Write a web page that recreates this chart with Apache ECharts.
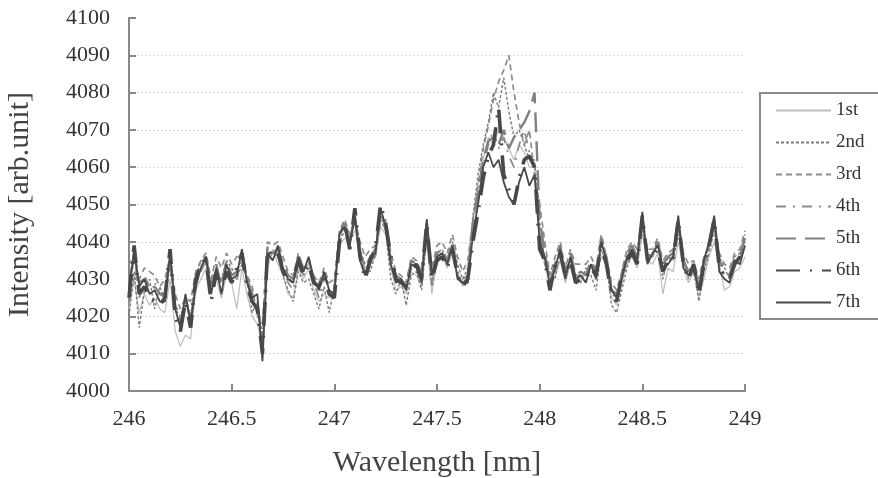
<!DOCTYPE html>
<html>
<head>
<meta charset="utf-8">
<script src="https://cdn.jsdelivr.net/npm/echarts@6/dist/echarts.min.js"></script>
<style>
  html, body { margin: 0; padding: 0; background: #fff; }
  #chart { width: 878px; height: 478px; }
</style>
</head>
<body>
<div id="chart"></div>
<script>
// wavelength samples [nm]
const wavelength = [
  246, 246.025, 246.05, 246.075, 246.1, 246.125, 246.15, 246.175, 246.2, 246.225,
  246.25, 246.275, 246.3, 246.325, 246.35, 246.375, 246.4, 246.425, 246.45, 246.475,
  246.5, 246.525, 246.55, 246.575, 246.6, 246.625, 246.65, 246.675, 246.7, 246.725,
  246.75, 246.775, 246.8, 246.825, 246.85, 246.875, 246.9, 246.925, 246.95, 246.975,
  247, 247.025, 247.05, 247.075, 247.1, 247.125, 247.15, 247.175, 247.2, 247.225,
  247.25, 247.275, 247.3, 247.325, 247.35, 247.375, 247.4, 247.425, 247.45, 247.475,
  247.5, 247.525, 247.55, 247.575, 247.6, 247.625, 247.65, 247.675, 247.7, 247.725,
  247.75, 247.775, 247.8, 247.825, 247.85, 247.875, 247.9, 247.925, 247.95, 247.975,
  248, 248.025, 248.05, 248.075, 248.1, 248.125, 248.15, 248.175, 248.2, 248.225,
  248.25, 248.275, 248.3, 248.325, 248.35, 248.375, 248.4, 248.425, 248.45, 248.475,
  248.5, 248.525, 248.55, 248.575, 248.6, 248.625, 248.65, 248.675, 248.7, 248.725,
  248.75, 248.775, 248.8, 248.825, 248.85, 248.875, 248.9, 248.925, 248.95, 248.975,
  249
]

const run1 = [
  4022, 4030, 4021, 4026, 4023, 4025, 4022, 4021, 4030, 4016,
  4012, 4015, 4014, 4027, 4030, 4033, 4028, 4030, 4025, 4031,
  4029, 4022, 4033, 4026, 4020, 4018, 4012, 4033, 4038, 4034,
  4031, 4026, 4025, 4033, 4030, 4033, 4027, 4024, 4026, 4025,
  4027, 4039, 4041, 4040, 4043, 4037, 4033, 4034, 4036, 4044,
  4042, 4033, 4027, 4028, 4026, 4032, 4031, 4028, 4040, 4026,
  4035, 4036, 4033, 4037, 4031, 4028, 4032, 4045, 4055, 4062,
  4068, 4066, 4070, 4068, 4065, 4062, 4066, 4064, 4060, 4060,
  4042, 4034, 4029, 4031, 4035, 4029, 4034, 4031, 4030, 4032,
  4033, 4032, 4036, 4034, 4025, 4023, 4029, 4034, 4036, 4033,
  4042, 4035, 4034, 4037, 4026, 4033, 4032, 4040, 4033, 4029,
  4032, 4025, 4030, 4036, 4040, 4034, 4027, 4028, 4032, 4033,
  4036
]
const run2 = [
  4020, 4032, 4017, 4027, 4030, 4022, 4028, 4024, 4034, 4022,
  4020, 4024, 4020, 4030, 4035, 4034, 4029, 4031, 4030, 4035,
  4033, 4030, 4034, 4030, 4021, 4024, 4015, 4035, 4037, 4036,
  4031, 4027, 4024, 4032, 4029, 4030, 4026, 4022, 4028, 4021,
  4028, 4040, 4043, 4041, 4045, 4038, 4034, 4032, 4037, 4046,
  4043, 4030, 4026, 4030, 4023, 4031, 4032, 4027, 4042, 4028,
  4037, 4038, 4035, 4040, 4034, 4030, 4033, 4047, 4058, 4066,
  4072, 4080, 4076, 4084, 4075, 4068, 4070, 4066, 4062, 4062,
  4045, 4035, 4032, 4030, 4037, 4031, 4035, 4030, 4029, 4033,
  4031, 4027, 4038, 4034, 4023, 4021, 4027, 4033, 4037, 4036,
  4044, 4036, 4036, 4040, 4030, 4036, 4035, 4042, 4036, 4030,
  4033, 4024, 4032, 4037, 4043, 4036, 4033, 4030, 4036, 4037,
  4042
]
const run3 = [
  4035, 4034, 4030, 4033, 4032, 4031, 4028, 4030, 4036, 4026,
  4022, 4025, 4024, 4032, 4035, 4037, 4030, 4036, 4033, 4037,
  4034, 4036, 4036, 4031, 4028, 4020, 4018, 4040, 4039, 4040,
  4036, 4032, 4031, 4037, 4033, 4034, 4031, 4029, 4033, 4029,
  4030, 4043, 4046, 4042, 4046, 4040, 4036, 4038, 4039, 4045,
  4046, 4037, 4032, 4031, 4029, 4036, 4035, 4032, 4046, 4033,
  4039, 4040, 4037, 4042, 4036, 4032, 4035, 4046, 4055, 4065,
  4071, 4078, 4083, 4086, 4090, 4080, 4072, 4066, 4070, 4058,
  4050, 4040, 4031, 4036, 4040, 4033, 4038, 4034, 4034, 4034,
  4036, 4033, 4042, 4036, 4029, 4027, 4032, 4038, 4040, 4038,
  4045, 4038, 4038, 4041, 4035, 4037, 4038, 4044, 4037, 4034,
  4035, 4030, 4036, 4038, 4045, 4037, 4034, 4033, 4037, 4038,
  4043
]
const run4 = [
  4026, 4036, 4025, 4031, 4028, 4029, 4026, 4025, 4035, 4024,
  4019, 4023, 4020, 4029, 4032, 4035, 4027, 4032, 4029, 4033,
  4031, 4030, 4036, 4030, 4023, 4022, 4011, 4036, 4036, 4038,
  4034, 4029, 4027, 4035, 4031, 4035, 4029, 4025, 4030, 4028,
  4028, 4041, 4043, 4040, 4046, 4036, 4032, 4035, 4036, 4047,
  4043, 4035, 4030, 4029, 4028, 4033, 4032, 4030, 4044, 4029,
  4036, 4037, 4034, 4039, 4032, 4030, 4031, 4044, 4052, 4060,
  4066, 4070, 4065, 4068, 4063, 4060, 4066, 4070, 4064, 4060,
  4044, 4034, 4030, 4032, 4036, 4030, 4036, 4031, 4031, 4031,
  4034, 4031, 4039, 4035, 4026, 4025, 4030, 4035, 4037, 4035,
  4046, 4036, 4036, 4039, 4033, 4035, 4036, 4045, 4035, 4031,
  4034, 4027, 4033, 4038, 4045, 4034, 4031, 4030, 4035, 4035,
  4040
]
const run5 = [
  4028, 4037, 4029, 4030, 4027, 4028, 4026, 4026, 4036, 4023,
  4018, 4025, 4019, 4029, 4034, 4036, 4028, 4034, 4028, 4035,
  4031, 4032, 4037, 4030, 4026, 4024, 4013, 4039, 4037, 4038,
  4034, 4031, 4030, 4036, 4033, 4035, 4030, 4028, 4031, 4028,
  4027, 4042, 4045, 4040, 4047, 4037, 4033, 4036, 4038, 4048,
  4044, 4035, 4031, 4030, 4028, 4035, 4034, 4031, 4045, 4031,
  4037, 4038, 4035, 4040, 4031, 4029, 4030, 4045, 4053, 4062,
  4067, 4068, 4066, 4070, 4065, 4068, 4070, 4072, 4075, 4080,
  4046, 4037, 4029, 4034, 4039, 4031, 4037, 4031, 4032, 4031,
  4035, 4032, 4041, 4036, 4027, 4026, 4031, 4037, 4039, 4036,
  4047, 4036, 4037, 4040, 4034, 4036, 4037, 4046, 4035, 4032,
  4034, 4028, 4035, 4039, 4046, 4035, 4032, 4031, 4036, 4036,
  4041
]
const run6 = [
  4025, 4039, 4026, 4028, 4025, 4024, 4023, 4025, 4038, 4020,
  4016, 4024, 4017, 4030, 4034, 4035, 4024, 4032, 4027, 4032,
  4029, 4033, 4037, 4028, 4024, 4022, 4010, 4038, 4036, 4037,
  4032, 4029, 4030, 4035, 4031, 4034, 4029, 4028, 4031, 4026,
  4025, 4040, 4045, 4038, 4049, 4036, 4030, 4035, 4038, 4050,
  4045, 4036, 4030, 4029, 4028, 4033, 4034, 4030, 4045, 4030,
  4035, 4036, 4033, 4038, 4031, 4028, 4030, 4040, 4048, 4057,
  4063, 4066, 4076, 4058, 4054, 4050, 4057, 4062, 4063, 4060,
  4038, 4035, 4027, 4034, 4037, 4031, 4035, 4029, 4030, 4030,
  4033, 4031, 4039, 4034, 4026, 4024, 4031, 4035, 4037, 4034,
  4047, 4035, 4036, 4038, 4032, 4035, 4035, 4046, 4034, 4030,
  4034, 4026, 4034, 4039, 4046, 4033, 4031, 4030, 4034, 4036,
  4038
]
const run7 = [
  4027, 4038, 4028, 4030, 4026, 4027, 4024, 4024, 4037, 4022,
  4017, 4026, 4018, 4028, 4033, 4036, 4026, 4033, 4026, 4034,
  4030, 4031, 4038, 4029, 4025, 4026, 4008, 4037, 4035, 4039,
  4033, 4030, 4029, 4036, 4032, 4036, 4030, 4027, 4032, 4027,
  4026, 4042, 4044, 4039, 4047, 4035, 4031, 4036, 4037, 4049,
  4044, 4034, 4029, 4030, 4027, 4034, 4033, 4029, 4046, 4031,
  4036, 4037, 4034, 4039, 4030, 4029, 4029, 4042, 4050, 4060,
  4064, 4060, 4062, 4056, 4052, 4050, 4056, 4060, 4055, 4058,
  4040, 4036, 4028, 4033, 4038, 4030, 4036, 4030, 4031, 4029,
  4034, 4030, 4040, 4035, 4027, 4025, 4030, 4036, 4038, 4035,
  4048, 4034, 4037, 4039, 4033, 4034, 4036, 4047, 4033, 4031,
  4033, 4027, 4035, 4040, 4047, 4032, 4030, 4029, 4035, 4034,
  4039
]

const runNames = ['1st', '2nd', '3rd', '4th', '5th', '6th', '7th']
const runs = [run1, run2, run3, run4, run5, run6, run7]

// line look for each run, same order as runNames
const lineStyles = [
  { color: '#bdbdbd', width: 1.2, type: 'solid' },
  { color: '#7c7c7c', width: 1.4, type: [3, 2] },
  { color: '#8c8c8c', width: 1.7, type: [6, 4] },
  { color: '#8c8c8c', width: 1.8, type: [10, 7, 2, 7] },
  { color: '#808080', width: 2.4, type: [20, 9] },
  { color: '#484848', width: 3.6, type: [24, 10, 2, 10] },
  { color: '#484848', width: 1.8, type: 'solid' }
]

const serif = 'Liberation Serif, Times New Roman, serif'

const chart = echarts.init(document.getElementById('chart'))

chart.setOption({
  backgroundColor: '#fff',
  animation: false,
  grid: {
    left: 129,
    right: 133,
    top: 18,
    bottom: 87,
    outerBoundsMode: 'none'
  },
  legend: {
    orient: 'vertical',
    left: 760,
    top: 93,
    data: runNames,
    itemWidth: 55,
    itemHeight: 12,
    itemGap: 13,
    // box runs off the right edge, as in the original figure
    padding: [8, 80, 7, 15],
    borderColor: '#8a8a8a',
    borderWidth: 2,
    itemStyle: { opacity: 0 },
    textStyle: {
      fontFamily: serif,
      fontSize: 19,
      color: '#333'
    }
  },
  xAxis: {
    type: 'value',
    min: 246,
    max: 249,
    interval: 0.5,
    name: 'Wavelength [nm]',
    nameLocation: 'middle',
    nameGap: 57,
    nameTextStyle: {
      fontFamily: serif,
      fontSize: 30,
      color: '#444'
    },
    axisLine: {
      lineStyle: { color: '#888', width: 2 }
    },
    axisTick: {
      inside: true,
      length: 7,
      lineStyle: { color: '#888', width: 2 }
    },
    axisLabel: {
      margin: 17,
      fontFamily: serif,
      fontSize: 22,
      color: '#333'
    },
    splitLine: { show: false }
  },
  yAxis: {
    type: 'value',
    min: 4000,
    max: 4100,
    interval: 10,
    name: 'Intensity [arb.unit]',
    nameLocation: 'middle',
    nameGap: 94,
    nameTextStyle: {
      fontFamily: serif,
      fontSize: 30,
      color: '#444'
    },
    axisLine: {
      show: true,
      lineStyle: { color: '#888', width: 2 }
    },
    axisTick: {
      show: true,
      inside: true,
      length: 7,
      lineStyle: { color: '#888', width: 2 }
    },
    axisLabel: {
      margin: 19,
      fontFamily: serif,
      fontSize: 22,
      color: '#333',
      formatter: value => String(value)
    },
    splitLine: {
      show: true,
      showMinLine: false,
      showMaxLine: false,
      lineStyle: { color: '#d8d8d8', width: 1, type: [2, 2] }
    }
  },
  series: runs.map((vals, i) => ({
    name: runNames[i],
    type: 'line',
    symbol: 'none',
    data: vals.map((v, k) => [wavelength[k], v]),
    lineStyle: lineStyles[i],
    itemStyle: { color: lineStyles[i].color },
    z: 2 + i
  }))
})
</script>
</body>
</html>
